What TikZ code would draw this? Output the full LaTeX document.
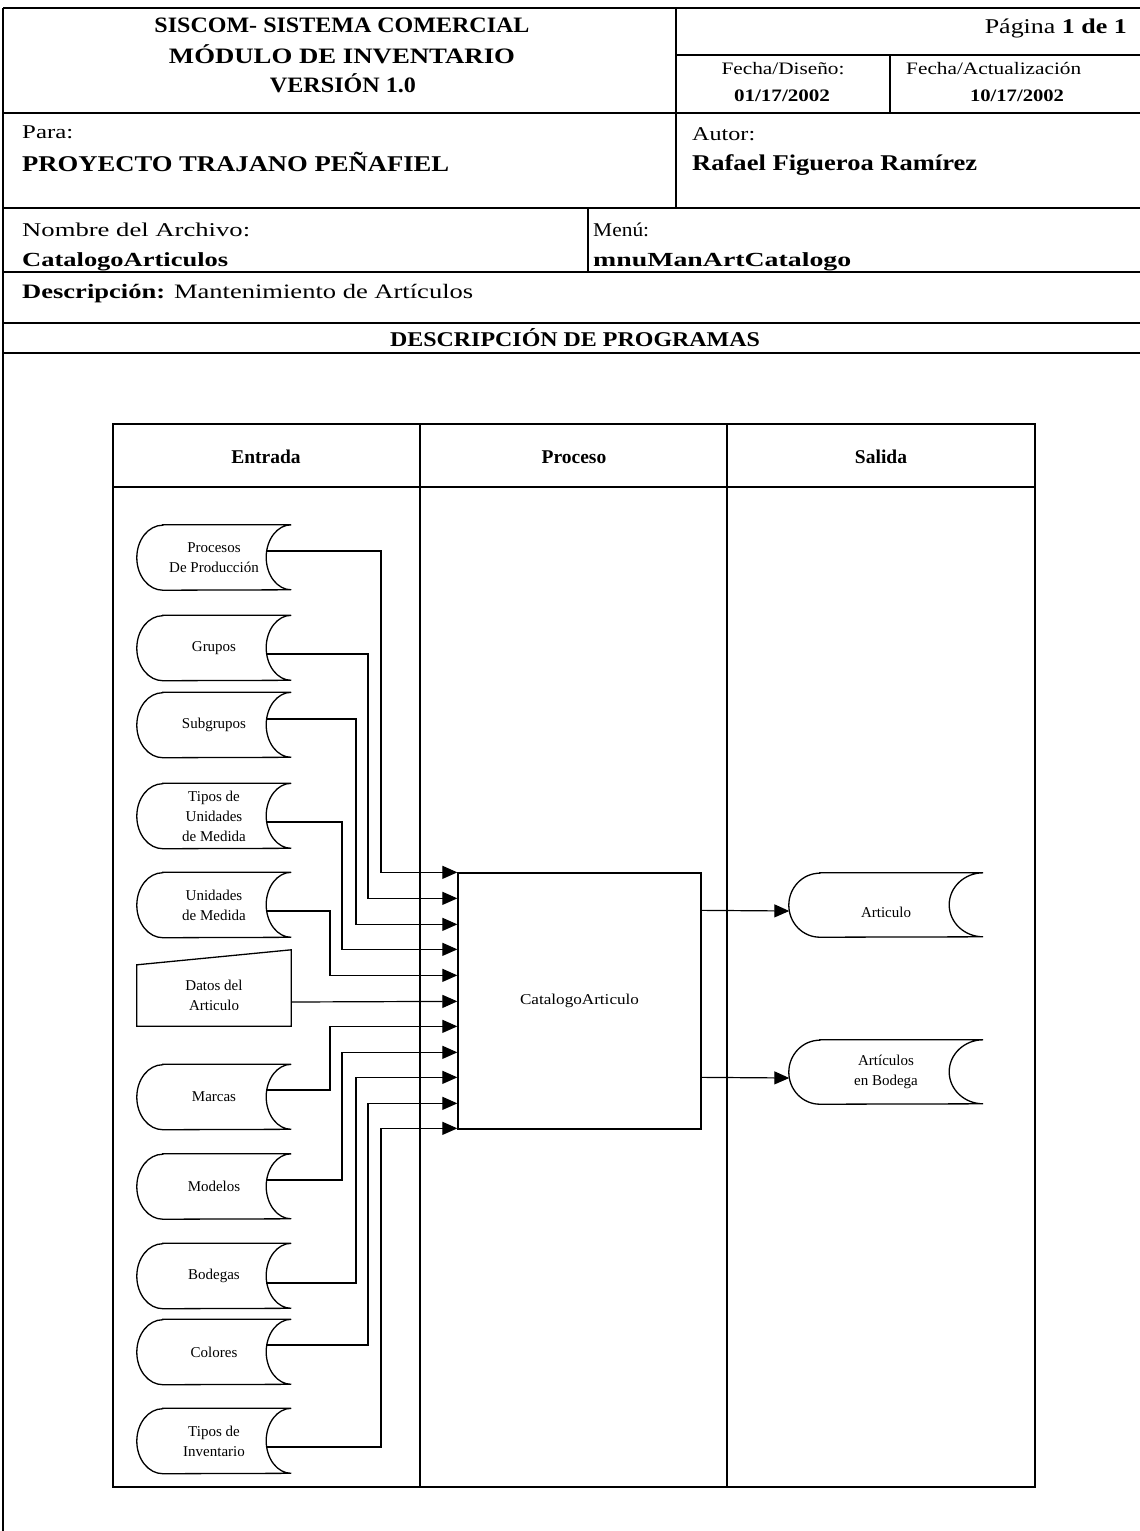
\documentclass[tikz,border=0pt]{standalone}
\usepackage{fontspec}
\setmainfont{Liberation Serif}
\usepackage{graphicx}
\usetikzlibrary{arrows.meta,calc}

\newcommand{\fw}[2]{\resizebox{#1}{\height}{#2}}
\newcommand{\fsz}[1]{\fontsize{#1}{#1}\selectfont}
% stored-data outline drawn round a named node: name, left radius, right radius, half height
\newcommand{\stdata}[4]{%
  \draw[shp] ($(#1.north west)+(#2,0)$) -- (#1.north east)
    arc[start angle=90,end angle=270,x radius=#3pt,y radius=#4pt]
    -- ($(#1.south west)+(#2,0)$)
    arc[start angle=270,end angle=90,x radius=#2pt,y radius=#4pt] -- cycle;}

\begin{document}
\begin{tikzpicture}[x=1pt,y=-1pt,
  tline/.style={line width=2.2pt},
  dline/.style={line width=1.5pt},
  shp/.style={line width=1.3pt},
  conn/.style={line width=1.2pt},
  arr/.style={conn,-{Triangle[length=15pt,width=13pt]}},
  lb/.style={inner sep=0pt},
  inp/.style={minimum width=154pt,minimum height=65pt,inner sep=0pt,align=center,font=\fontsize{15}{20}\selectfont},
  outp/.style={minimum width=194pt,minimum height=64pt,inner sep=0pt,align=center,font=\fontsize{15}{20}\selectfont},
  colh/.style={lb,anchor=base,font=\fsz{19.5}\bfseries}]
\useasboundingbox (0,0) rectangle (1140,1531);

% ---------------- header table ----------------
\draw[tline] (3,8) -- (1140,8);
\draw[tline] (3,8) -- (3,1531);
\draw[tline] (676,8) -- (676,208);
\draw[tline] (676,55) -- (1140,55);
\draw[tline] (890,55) -- (890,113);
\draw[tline] (3,113) -- (1140,113);
\draw[tline] (3,208) -- (1140,208);
\draw[tline] (588,208) -- (588,272);
\draw[tline] (3,272) -- (1140,272);
\draw[tline] (3,323) -- (1140,323);
\draw[tline] (3,353) -- (1140,353);

\node[lb,anchor=base,font=\fsz{22}\bfseries] (h1) at (342,32) {\fw{375pt}{SISCOM- SISTEMA COMERCIAL}};
\node[lb,anchor=base,font=\fsz{22}\bfseries] (h2) at (342,63) {\fw{346pt}{MÓDULO DE INVENTARIO}};
\node[lb,anchor=base,font=\fsz{22}\bfseries] (h3) at (343,92) {\fw{146pt}{VERSIÓN 1.0}};
\node[lb,anchor=base east,font=\fsz{21}] (pg) at (1127,33) {\fw{142pt}{Página \textbf{1 de 1}}};
\node[lb,anchor=base,font=\fsz{17.5}] (fd) at (783,74) {\fw{123pt}{Fecha/Diseño:}};
\node[lb,anchor=base,font=\fsz{17.5}\bfseries] (fdv) at (782,101) {\fw{96pt}{01/17/2002}};
\node[lb,anchor=base west,font=\fsz{17.5}] (fa) at (906,74) {\fw{175pt}{Fecha/Actualización}};
\node[lb,anchor=base,font=\fsz{17.5}\bfseries] (fav) at (1017,101) {\fw{94pt}{10/17/2002}};
\node[lb,anchor=base west,font=\fsz{19.5}] (para) at (22,138) {\fw{51pt}{Para:}};
\node[lb,anchor=base west,font=\fsz{22.5}\bfseries] (proy) at (22,171) {\fw{427pt}{PROYECTO TRAJANO PEÑAFIEL}};
\node[lb,anchor=base west,font=\fsz{19.5}] (aut) at (692,140) {\fw{63pt}{Autor:}};
\node[lb,anchor=base west,font=\fsz{22.5}\bfseries] (autv) at (692,170) {\fw{285pt}{Rafael Figueroa Ramírez}};
\node[lb,anchor=base west,font=\fsz{19.5}] (nom) at (22,236) {\fw{228pt}{Nombre del Archivo:}};
\node[lb,anchor=base west,font=\fsz{20}\bfseries] (nomv) at (22,266) {\fw{206pt}{CatalogoArticulos}};
\node[lb,anchor=base west,font=\fsz{19.5}] (men) at (593,236) {\fw{56pt}{Menú:}};
\node[lb,anchor=base west,font=\fsz{20}\bfseries] (menv) at (593,266) {\fw{258pt}{mnuManArtCatalogo}};
\node[lb,anchor=base west,font=\fsz{20.5}] (desc) at (22,298) {\fw{451pt}{\textbf{Descripción:} Mantenimiento de Artículos}};
\node[lb,anchor=base,font=\fsz{21}\bfseries] (dp) at (575,346) {\fw{370pt}{DESCRIPCIÓN DE PROGRAMAS}};

% ---------------- diagram frame ----------------
\draw[dline] (113,424) rectangle (1035,1487);
\draw[dline] (113,487) -- (1035,487);
\draw[dline] (420,424) -- (420,1487);
\draw[dline] (727,424) -- (727,1487);
\node[colh] (ce) at (266,463) {Entrada};
\node[colh] (cp) at (574,463) {Proceso};
\node[colh] (cs) at (881,463) {Salida};

% ---------------- process ----------------
\node[draw,shp,minimum width=243pt,minimum height=256pt,inner sep=0pt,font=\fsz{15}] (P) at (579.5,1001) {\fw{119pt}{CatalogoArticulo}};
\coordinate (i1) at ($(P.north west)+(0,0)$);
\coordinate (i2) at ($(P.north west)+(0,26)$);
\coordinate (i3) at ($(P.north west)+(0,52)$);
\coordinate (i4) at ($(P.north west)+(0,77)$);
\coordinate (i5) at ($(P.north west)+(0,103)$);
\coordinate (i6) at ($(P.north west)+(0,129)$);
\coordinate (i7) at ($(P.north west)+(0,154)$);
\coordinate (i8) at ($(P.north west)+(0,180)$);
\coordinate (i9) at ($(P.north west)+(0,205)$);
\coordinate (i10) at ($(P.north west)+(0,231)$);
\coordinate (i11) at ($(P.north west)+(0,256)$);
\coordinate (va) at (381,0);
\coordinate (vb) at (368,0);
\coordinate (vc) at (356,0);
\coordinate (vd) at (342,0);
\coordinate (ve) at (330,0);

% ---------------- inputs ----------------
\node[inp] (a1) at (214,557.5) {Procesos\\De Producción};
\node[inp] (a2) at (214,648) {Grupos};
\node[inp] (a3) at (214,725) {Subgrupos};
\node[inp] (a4) at (214,816) {Tipos de\\Unidades\\de Medida};
\node[inp] (a5) at (214,905) {Unidades\\de Medida};
\node[inp] (a7) at (214,1097) {Marcas};
\node[inp] (a8) at (214,1186.5) {Modelos};
\node[inp] (a9) at (214,1276) {Bodegas};
\node[inp] (a10) at (214,1352) {Colores};
\node[inp] (a11) at (214,1441) {Tipos de\\Inventario};
\foreach \n in {a1,a2,a3,a4,a5,a7,a8,a9,a10,a11}{\stdata{\n}{26}{25}{32.5}}

\node[inner sep=0pt,minimum width=154pt,minimum height=76pt] (d) at (214,988) {};
\draw[shp] ($(d.north west)+(0,15)$) -- (d.north east) -- (d.south east) -- (d.south west) -- cycle;
\node[inner sep=0pt,align=center,font=\fontsize{15}{20}\selectfont] (dt) at (214,995) {Datos del\\Articulo};

\draw[arr] ($(a1.east)+(-25,-6.5)$) -| (i1 -| va) -- (i1);
\draw[arr] ($(a2.east)+(-25,6)$) -| (i2 -| vb) -- (i2);
\draw[arr] ($(a3.east)+(-25,-6)$) -| (i3 -| vc) -- (i3);
\draw[arr] ($(a4.east)+(-25,6)$) -| (i4 -| vd) -- (i4);
\draw[arr] ($(a5.east)+(-25,6)$) -| (i5 -| ve) -- (i5);
\draw[arr] ($(d.east)+(0,14)$) -- (i6);
\draw[arr] ($(a7.east)+(-25,-7)$) -| (i7 -| ve) -- (i7);
\draw[arr] ($(a8.east)+(-25,-6.5)$) -| (i8 -| vd) -- (i8);
\draw[arr] ($(a9.east)+(-25,7)$) -| (i9 -| vc) -- (i9);
\draw[arr] ($(a10.east)+(-25,-7)$) -| (i10 -| vb) -- (i10);
\draw[arr] ($(a11.east)+(-25,6)$) -| (i11 -| va) -- (i11);

% ---------------- outputs ----------------
\node[outp] (o1) at (886,905) {\raisebox{-7pt}[\height][\depth]{Articulo}};
\node[outp] (o2) at (886,1072) {Artículos\\en Bodega};
\stdata{o1}{31}{34}{32}
\stdata{o2}{31}{34}{32}
\draw[arr] ($(P.north east)+(0,38)$) -- ($(o1.west)+(0.5,6)$);
\draw[arr] ($(P.north east)+(0,205)$) -- ($(o2.west)+(0.5,6)$);
\end{tikzpicture}
\end{document}
